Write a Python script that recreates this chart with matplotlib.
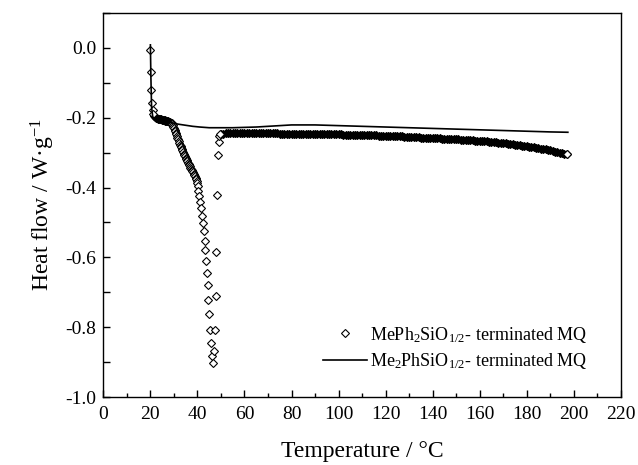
import matplotlib
matplotlib.use("Agg")
import matplotlib.pyplot as plt
from matplotlib.ticker import MultipleLocator, FixedLocator, FixedFormatter

plt.rcParams['font.family'] = ['Liberation Serif', 'DejaVu Serif']
plt.rcParams['mathtext.fontset'] = 'custom'
plt.rcParams['mathtext.rm'] = 'Liberation Serif'
plt.rcParams['mathtext.it'] = 'Liberation Serif:italic'
plt.rcParams['axes.unicode_minus'] = False

# ---- MePh2SiO1/2-terminated MQ (diamonds) ----
# initial spike
spike_t = [19.85, 20.1, 20.3, 20.6, 21.0, 21.3]
spike_hf = [-0.008, -0.070, -0.122, -0.157, -0.177, -0.191]
# dense flat part before the melting peak
flat_t = [21.6, 22.0, 22.4, 22.8, 23.2, 23.6, 24.0, 24.4, 24.8, 25.2, 25.6,
          26.0, 26.4, 26.8, 27.2, 27.6, 28.0, 28.4, 28.8]
flat_hf = [-0.196, -0.199, -0.201, -0.202, -0.203, -0.204, -0.205, -0.205,
           -0.206, -0.206, -0.207, -0.208, -0.209, -0.210, -0.211, -0.211,
           -0.212, -0.213, -0.215]
# melting peak
peak_t = [29.0, 29.25, 29.5, 29.75, 30.0, 30.25, 30.5, 30.75, 31.0, 31.25,
          31.5, 31.75, 32.0, 32.3, 32.6, 32.85, 33.1, 33.35, 33.6, 33.9,
          34.2, 34.45, 34.7, 34.95, 35.2, 35.45, 35.7, 36.0, 36.3, 36.55,
          36.8, 37.05, 37.3, 37.55, 37.8, 38.1, 38.4, 38.65, 38.9, 39.2,
          39.5, 39.8, 40.0,
          40.2, 40.4, 40.6, 41.0, 41.4, 41.9, 42.4, 42.8, 43.1, 43.4,
          43.8, 44.1, 44.4, 44.6, 45.0, 45.3, 45.8, 46.1, 46.7,
          47.2, 47.3, 47.9, 48.0, 48.5, 48.7, 49.0, 49.3, 49.6]
peak_hf = [-0.215, -0.218, -0.222, -0.226, -0.231, -0.235, -0.239, -0.244,
           -0.248, -0.253, -0.258, -0.262, -0.267, -0.272, -0.277, -0.281,
           -0.285, -0.290, -0.294, -0.299, -0.303, -0.307, -0.311, -0.315,
           -0.318, -0.322, -0.325, -0.329, -0.332, -0.336, -0.339, -0.343,
           -0.346, -0.350, -0.353, -0.357, -0.361, -0.364, -0.368, -0.372,
           -0.377, -0.382, -0.386,
           -0.397, -0.411, -0.425, -0.441, -0.460, -0.481, -0.501, -0.525,
           -0.552, -0.580, -0.611, -0.645, -0.680, -0.723, -0.762, -0.807,
           -0.845, -0.881, -0.901,
           -0.867, -0.807, -0.710, -0.585, -0.422, -0.306, -0.270, -0.253,
           -0.247]
# baseline after the peak (one reading per degree, 50..197 C)
base_t = list(range(50, 198))
base_hf = [
    -0.246, -0.246, -0.245, -0.245, -0.245, -0.245, -0.245, -0.245, -0.245, -0.245,
    -0.245, -0.245, -0.245, -0.245, -0.245, -0.245, -0.245, -0.245, -0.245, -0.245,
    -0.245, -0.245, -0.245, -0.245, -0.245, -0.246, -0.246, -0.246, -0.246, -0.246,
    -0.246, -0.246, -0.246, -0.246, -0.246, -0.247, -0.247, -0.247, -0.247, -0.247,
    -0.247, -0.247, -0.247, -0.247, -0.247, -0.248, -0.248, -0.248, -0.248, -0.248,
    -0.248, -0.248, -0.249, -0.249, -0.249, -0.249, -0.249, -0.250, -0.250, -0.250,
    -0.250, -0.250, -0.251, -0.251, -0.251, -0.251, -0.251, -0.252, -0.252, -0.252,
    -0.252, -0.252, -0.253, -0.253, -0.253, -0.254, -0.254, -0.254, -0.255, -0.255,
    -0.255, -0.255, -0.256, -0.256, -0.256, -0.257, -0.257, -0.257, -0.258, -0.258,
    -0.258, -0.259, -0.259, -0.259, -0.260, -0.260, -0.260, -0.261, -0.261, -0.262,
    -0.262, -0.262, -0.263, -0.263, -0.264, -0.264, -0.265, -0.265, -0.266, -0.266,
    -0.267, -0.267, -0.268, -0.268, -0.269, -0.270, -0.270, -0.271, -0.272, -0.272,
    -0.273, -0.274, -0.275, -0.276, -0.276, -0.277, -0.278, -0.279, -0.280, -0.281,
    -0.282, -0.283, -0.284, -0.285, -0.286, -0.287, -0.289, -0.290, -0.291, -0.292,
    -0.294, -0.295, -0.297, -0.298, -0.300, -0.301, -0.303, -0.304]

# ---- Me2PhSiO1/2-terminated MQ (solid line) ----
line_t = [20.0, 20.2, 20.5, 21.0, 22.0, 25.0, 29.0, 32.0, 35.0, 38.0, 41.0,
          45.0, 50.0, 55.0, 60.0, 65.0, 70.0, 75.0, 80.0, 90.0, 100.0, 110.0,
          120.0, 130.0, 140.0, 150.0, 160.0, 170.0, 180.0, 190.0, 197.5]
line_hf = [0.008, -0.08, -0.17, -0.198, -0.204, -0.208, -0.215, -0.219,
           -0.222, -0.225, -0.227, -0.229, -0.229, -0.229, -0.228, -0.227,
           -0.225, -0.223, -0.221, -0.221, -0.223, -0.225, -0.227, -0.229,
           -0.231, -0.233, -0.235, -0.237, -0.239, -0.241, -0.242]

label_a = r'MePh$_2$SiO$_{1/2}$- terminated MQ'
label_b = r'Me$_2$PhSiO$_{1/2}$- terminated MQ'

fig = plt.figure(figsize=(6.38, 4.65), dpi=100)
ax = fig.add_axes([0.162, 0.1456, 0.811, 0.8271])

ms = 4.2
mew = 0.8
# dense segments: overlapping markers appear as a solid band
ax.plot(flat_t, flat_hf, ls='none', marker='D', ms=ms, mfc='k', mec='k', mew=mew)
ax.plot(base_t, base_hf, ls='none', marker='D', ms=ms, mfc='k', mec='k', mew=mew)
ax.plot(spike_t, spike_hf, ls='none', marker='D', ms=ms, mfc='white', mec='k', mew=mew)
ax.plot(peak_t, peak_hf, ls='none', marker='D', ms=ms, mfc='white', mec='k', mew=mew)
ax.plot(base_t[-1:], base_hf[-1:], ls='none', marker='D', ms=ms, mfc='white',
        mec='k', mew=mew, label=label_a)
ax.plot(line_t, line_hf, color='k', lw=1.2, label=label_b)

ax.set_xlim(0, 220)
ax.set_ylim(-1.0, 0.1)
ax.xaxis.set_major_locator(MultipleLocator(20))
ax.xaxis.set_minor_locator(MultipleLocator(10))
yt = [-1.0, -0.8, -0.6, -0.4, -0.2, 0.0]
ax.yaxis.set_major_locator(FixedLocator(yt))
ax.yaxis.set_major_formatter(FixedFormatter(['%.1f' % v for v in yt]))
ax.yaxis.set_minor_locator(MultipleLocator(0.1))

ax.tick_params(which='both', direction='in', labelsize=14, width=1.0)
ax.tick_params(axis='x', which='major', length=5, pad=6)
ax.tick_params(axis='x', which='minor', length=3)
ax.tick_params(axis='y', which='major', length=5, pad=5)
ax.tick_params(axis='y', which='minor', length=5)
ax.tick_params(top=False, right=False, which='both')
for s in ax.spines.values():
    s.set_linewidth(1.0)

ax.set_xlabel('Temperature / \u00b0C', fontsize=17, labelpad=13)
ax.set_ylabel('Heat flow / W\u00b7g$^{-1}$', fontsize=17, labelpad=6)

leg = ax.legend(loc='lower right', bbox_to_anchor=(0.95, 0.05), frameon=False,
                fontsize=13, handlelength=2.4, handletextpad=0.2,
                labelspacing=0.35, numpoints=1, borderaxespad=0)

fig.savefig('out.png', dpi=100)
